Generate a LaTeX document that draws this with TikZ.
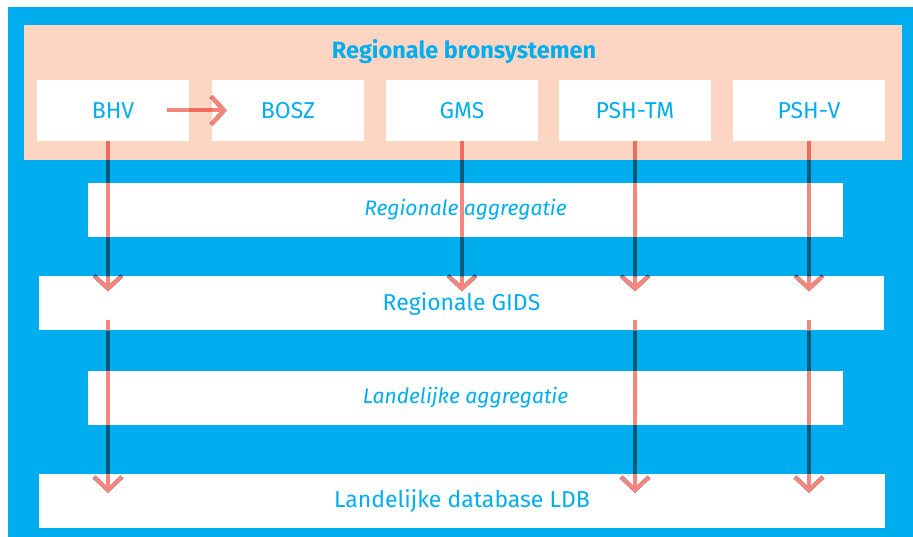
\documentclass[tikz,border=0pt]{standalone}
\usepackage{fontspec}
\setmainfont{Fira Sans}
\usetikzlibrary{arrows.meta}
\definecolor{gidsblue}{HTML}{00AEEF}
\definecolor{bronpeach}{HTML}{FCD5C3}
\definecolor{flowred}{HTML}{F6857D}
\definecolor{flowdeep}{HTML}{F16B5D}
\definecolor{flowdark}{HTML}{005A7A}
\newcommand\pijlen[1]{%
    \draw[flow,#1,shorten <=-22pt,shorten >=-15pt] (bhv.east) -- (bosz.west);
    \draw[flow,#1,shorten >=-15pt] ([xshift=-5pt]bhv.south) -- ([xshift=-5pt]bhv.south |- gids.north);
    \draw[flow,#1,shorten >=-15pt] (gms.south) -- (gms.south |- gids.north);
    \draw[flow,#1,shorten >=-15pt] (pshtm.south) -- (pshtm.south |- gids.north);
    \draw[flow,#1,shorten >=-15pt] (pshv.south) -- (pshv.south |- gids.north);
    \draw[flow,#1,shorten <=-11pt,shorten >=-19pt] ([xshift=-5pt]bhv.south |- gids.south) -- ([xshift=-5pt]bhv.south |- ldb.north);
    \draw[flow,#1,shorten <=-11pt,shorten >=-19pt] (pshtm.south |- gids.south) -- (pshtm.south |- ldb.north);
    \draw[flow,#1,shorten <=-11pt,shorten >=-19pt] (pshv.south |- gids.south) -- (pshv.south |- ldb.north);
}

\begin{document}
\begin{tikzpicture}[x=1pt,y=-1pt,
    tekst/.style={text=gidsblue,font=\fontsize{23}{26}\selectfont},
    bron/.style={tekst,fill=white,minimum width=152pt,minimum height=61pt},
    laag/.style={tekst,fill=white,minimum height=54pt},
    stap/.style={laag,minimum width=755pt,font=\itshape\fontsize{21}{24}\selectfont},
    flow/.style={line width=4pt,-{Straight Barb[length=13pt,width=28pt]}}
]
    \useasboundingbox (0,0) rectangle (913,537);
    \fill[gidsblue] (8,7) rectangle (913,537);
    \fill[bronpeach] (24,25) rectangle (902,160);
    \node[tekst,font=\bfseries\fontsize{23.5}{26}\selectfont] (titel) at (464,52) {Regionale bronsystemen};
    \node[bron] (bhv) at (113,110.5) {BHV};
    \node[bron] (bosz) at (288,110.5) {BOSZ};
    \node[bron] (gms) at (462,110.5) {GMS};
    \node[bron] (pshtm) at (635,110.5) {PSH-TM};
    \node[bron] (pshv) at (809,110.5) {PSH-V};
    \node[stap] (regagg) at (465.5,210) {Regionale aggregatie};
    \node[laag,minimum width=845pt] (gids) at (461.5,303.5) {Regionale GIDS};
    \node[stap] (landagg) at (465.5,398) {Landelijke aggregatie};
    \node[laag,minimum width=846pt] (ldb) at (462,501) {Landelijke database LDB};
    \pijlen{flowdark}
    \begin{scope}
        \clip (24,25) rectangle (902,160);
        \pijlen{flowdeep}
    \end{scope}
    \begin{scope}
        \clip (bhv.south west) rectangle (bhv.north east) (bosz.south west) rectangle (bosz.north east)
            (regagg.south west) rectangle (regagg.north east) (gids.south west) rectangle (gids.north east)
            (landagg.south west) rectangle (landagg.north east) (ldb.south west) rectangle (ldb.north east);
        \pijlen{flowred}
    \end{scope}
\end{tikzpicture}
\end{document}
